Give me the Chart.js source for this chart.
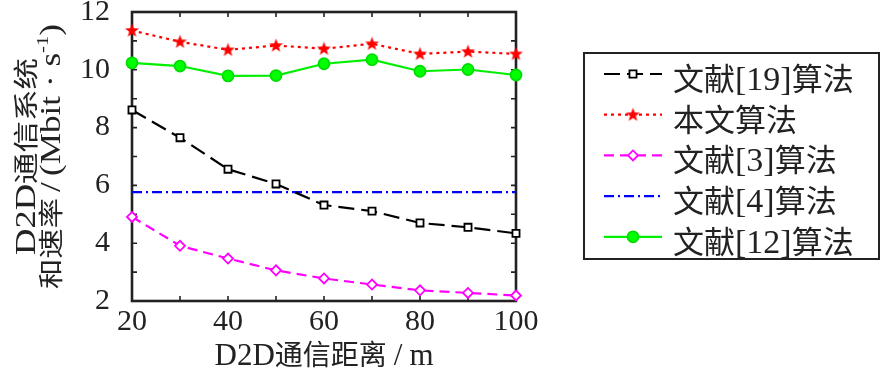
<!DOCTYPE html>
<html>
<head>
<meta charset="utf-8">
<script src="https://cdn.jsdelivr.net/npm/chart.js@4/dist/chart.umd.min.js"></script>
<style>
  html, body { margin: 0; padding: 0; background: #fff; }
  #wrap { width: 884px; height: 371px; }
</style>
</head>
<body>
<div id="wrap"><canvas id="myChart" width="884" height="371"></canvas></div>
<script>
// données
var distances = [20, 30, 40, 50, 60, 70, 80, 90, 100];
var ref19 = [8.61, 7.65, 6.56, 6.05, 5.32, 5.11, 4.70, 4.55, 4.34];
var proposed = [11.36, 10.97, 10.69, 10.84, 10.73, 10.90, 10.55, 10.63, 10.55];
var ref3 = [4.91, 3.91, 3.47, 3.06, 2.78, 2.57, 2.37, 2.28, 2.19];
var ref4 = [5.77, 5.77, 5.77, 5.77, 5.77, 5.77, 5.77, 5.77, 5.77];
var ref12 = [10.24, 10.13, 9.79, 9.80, 10.21, 10.35, 9.95, 10.01, 9.82];
var seriesNames = ['文献[19]算法', '本文算法', '文献[3]算法', '文献[4]算法', '文献[12]算法'];
var xTickLabels = [20, 40, 60, 80, 100];
var yTickLabels = [2, 4, 6, 8, 10, 12];
var xTitle = 'D2D通信距离/m';
var yTitle1 = 'D2D通信系统';
var yTitle2 = ['和速率/(Mbit · s', '-1', ')']; // le milieu est en exposant

var LAT = '"Liberation Serif", "Times New Roman", serif';
var CJK = '"Noto Sans CJK SC", sans-serif';
var ink = '#222';

function pts(values) {
  return values.map(function (v, i) { return { x: distances[i], y: v }; });
}

// étoile pleine pour "本文算法"
var starImg = document.createElement('canvas');
starImg.width = 15; starImg.height = 15;
(function () {
  var c = starImg.getContext('2d');
  c.beginPath();
  for (var k = 0; k < 10; k++) {
    var r = k % 2 === 0 ? 7.3 : 3;
    var a = -Math.PI / 2 + k * Math.PI / 5;
    var px = 7.5 + r * Math.cos(a), py = 7.8 + r * Math.sin(a);
    if (k === 0) c.moveTo(px, py); else c.lineTo(px, py);
  }
  c.closePath();
  c.fillStyle = '#ff0000';
  c.fill();
})();

// texte mixte latin / chinois
function splitRuns(str, latSize, cjkSize, slashPad) {
  var out = [];
  for (var i = 0; i < str.length; i++) {
    var ch = str[i];
    if (ch === '/') { out.push({ t: ch, font: latSize + 'px ' + LAT, pad: slashPad }); continue; }
    var f = ch.charCodeAt(0) >= 0x2E80 ? cjkSize + 'px ' + CJK : latSize + 'px ' + LAT;
    var last = out[out.length - 1];
    if (last && last.font === f && !last.pad) last.t += ch;
    else out.push({ t: ch, font: f });
  }
  return out;
}
function runsWidth(ctx, runs) {
  var w = 0;
  runs.forEach(function (r) { ctx.font = r.font; w += ctx.measureText(r.t).width + 2 * (r.pad || 0); });
  return w;
}
function drawRuns(ctx, runs, x, y) {
  ctx.textAlign = 'left';
  ctx.textBaseline = 'alphabetic';
  runs.forEach(function (r) {
    ctx.font = r.font;
    x += r.pad || 0;
    ctx.fillText(r.t, x, y + (r.dy || 0));
    x += ctx.measureText(r.t).width + (r.pad || 0);
  });
}
// ligne verticale étirée à une longueur donnée
function drawVertical(ctx, runs, baseX, cy, length) {
  var w = runsWidth(ctx, runs);
  ctx.save();
  ctx.translate(baseX, cy);
  ctx.rotate(-Math.PI / 2);
  ctx.scale(length / w, 1);
  drawRuns(ctx, runs, -w / 2, 0);
  ctx.restore();
}

function drawMarker(ctx, ds, x, y) {
  var s = ds.pointStyle, r = ds.pointRadius;
  if (!r) return;
  ctx.save();
  ctx.setLineDash([]);
  ctx.lineWidth = ds.pointBorderWidth;
  ctx.strokeStyle = ds.pointBorderColor;
  ctx.fillStyle = ds.pointBackgroundColor;
  ctx.beginPath();
  if (s === 'rect') {
    var h = r * Math.SQRT1_2;
    ctx.rect(x - h, y - h, 2 * h, 2 * h);
  } else if (s === 'rectRot') {
    ctx.moveTo(x - r, y); ctx.lineTo(x, y - r); ctx.lineTo(x + r, y); ctx.lineTo(x, y + r); ctx.closePath();
  } else if (s === 'circle') {
    ctx.arc(x, y, r, 0, Math.PI * 2);
  } else {
    ctx.drawImage(s, x - s.width / 2, y - s.height / 2);
    ctx.restore();
    return;
  }
  ctx.fill();
  ctx.stroke();
  ctx.restore();
}

var framePlugin = {
  id: 'frame',
  beforeDatasetsDraw: function (chart) {
    var ctx = chart.ctx, a = chart.chartArea;
    var xs = chart.scales.x, ys = chart.scales.y;
    ctx.save();
    ctx.strokeStyle = ink;
    ctx.lineWidth = 1.6;
    ctx.beginPath();
    xs.ticks.forEach(function (t) {
      var px = xs.getPixelForValue(t.value);
      ctx.moveTo(px, a.bottom); ctx.lineTo(px, a.bottom - 5);
      ctx.moveTo(px, a.top); ctx.lineTo(px, a.top + 5);
    });
    ys.ticks.forEach(function (t) {
      var py = ys.getPixelForValue(t.value);
      ctx.moveTo(a.left, py); ctx.lineTo(a.left + 5, py);
      ctx.moveTo(a.right, py); ctx.lineTo(a.right - 5, py);
    });
    ctx.stroke();
    ctx.lineWidth = 2.6;
    ctx.strokeRect(a.left, a.top, a.right - a.left, a.bottom - a.top);
    ctx.restore();
  }
};

var textPlugin = {
  id: 'texts',
  afterDraw: function (chart) {
    var ctx = chart.ctx, a = chart.chartArea;
    ctx.save();
    ctx.fillStyle = ink;
    // titre de l'axe x
    var xr = splitRuns(xTitle, 31, 28, 7);
    drawRuns(ctx, xr, (a.left + a.right) / 2 - runsWidth(ctx, xr) / 2, 365);
    // titre de l'axe y (deux lignes)
    var cy = (a.top + a.bottom) / 2;
    drawVertical(ctx, splitRuns(yTitle1, 29, 25, 0), 35, cy, 197);
    var l2 = splitRuns(yTitle2[0], 29, 25, 5);
    l2.push({ t: yTitle2[1], font: '17px ' + LAT, dy: -12 });
    l2 = l2.concat(splitRuns(yTitle2[2], 29, 25, 0));
    drawVertical(ctx, l2, 60, cy, 265);

    // légende
    ctx.strokeStyle = ink;
    ctx.lineWidth = 2;
    ctx.strokeRect(584, 53, 295, 206);
    chart.data.datasets.forEach(function (ds, i) {
      var y = 74 + i * 40.7;
      ctx.save();
      ctx.strokeStyle = ds.borderColor;
      ctx.lineWidth = ds.borderWidth;
      ctx.setLineDash(ds.borderDash);
      ctx.beginPath(); ctx.moveTo(604, y); ctx.lineTo(662, y); ctx.stroke();
      ctx.restore();
      drawMarker(ctx, ds, 633, y);
      ctx.fillStyle = ink;
      drawRuns(ctx, splitRuns(ds.label, 34, 31, 0), 673, y + 16);
    });
    ctx.restore();
  }
};

function baseSet(label, values, color, dash) {
  return {
    label: label, data: pts(values), borderColor: color, borderWidth: 2.2,
    borderDash: dash, pointBorderColor: color, pointBackgroundColor: '#fff',
    pointBorderWidth: 1.8, clip: false, tension: 0
  };
}

var sets = [
  Object.assign(baseSet(seriesNames[0], ref19, '#000000', [16, 7]), { pointStyle: 'rect', pointRadius: 5 }),
  Object.assign(baseSet(seriesNames[1], proposed, '#ff0000', [3, 4]), { pointStyle: starImg, pointRadius: 7 }),
  Object.assign(baseSet(seriesNames[2], ref3, '#ff00ff', [10, 6]), { pointStyle: 'rectRot', pointRadius: 5 }),
  Object.assign(baseSet(seriesNames[3], ref4, '#0000ff', [10, 4, 2, 4]), { pointStyle: 'circle', pointRadius: 0 }),
  Object.assign(baseSet(seriesNames[4], ref12, '#00ee00', []), { pointStyle: 'circle', pointRadius: 5.5, pointBackgroundColor: '#00ff00', pointBorderColor: '#00dd00' })
];

var ctx = document.getElementById('myChart').getContext('2d');
var myChart = new Chart(ctx, {
  type: 'line',
  data: { datasets: sets },
  plugins: [framePlugin, textPlugin],
  options: {
    responsive: false,
    animation: false,
    devicePixelRatio: 1,
    layout: { padding: { top: 12, right: 368, left: 0, bottom: 0 } },
    plugins: { legend: { display: false }, tooltip: { enabled: false } },
    scales: {
      x: {
        type: 'linear', min: 20, max: 100,
        afterFit: function (s) { s.height = 70; },
        grid: { display: false, drawTicks: false },
        border: { display: false },
        ticks: {
          stepSize: 10, autoSkip: false, maxRotation: 0, padding: 6, color: ink,
          font: { family: LAT, size: 30, lineHeight: 1 },
          callback: function (v) { return xTickLabels.indexOf(v) >= 0 ? String(v) : ''; }
        }
      },
      y: {
        min: 2, max: 12,
        afterFit: function (s) { s.width = 132; s.paddingTop = 0; s.paddingBottom = 0; },
        grid: { display: false, drawTicks: false },
        border: { display: false },
        ticks: {
          stepSize: 1, autoSkip: false, padding: 22, color: ink,
          font: { family: LAT, size: 30, lineHeight: 0.8 },
          callback: function (v) { return yTickLabels.indexOf(v) >= 0 ? String(v) : ''; }
        }
      }
    }
  }
});
</script>
</body>
</html>
